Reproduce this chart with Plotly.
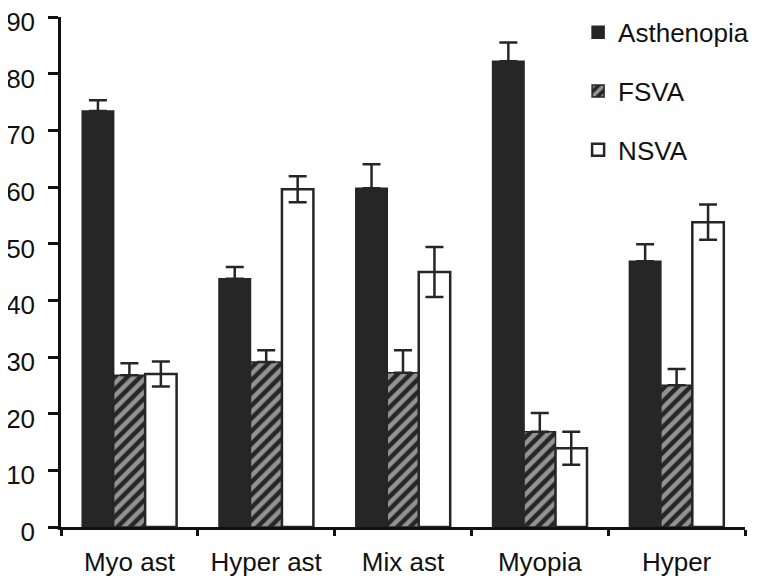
import plotly.graph_objects as go

categories = ["Myo ast", "Hyper ast", "Mix ast", "Myopia", "Hyper"]
asthenopia = [73.4, 43.8, 59.8, 82.2, 46.9]
asthenopia_err = [1.9, 2.1, 4.2, 3.3, 3.0]
fsva = [26.8, 29.1, 27.2, 16.8, 25.0]
fsva_err = [2.1, 2.1, 4.0, 3.3, 2.9]
nsva = [27.0, 59.6, 45.0, 13.9, 53.8]
nsva_err = [2.2, 2.3, 4.4, 2.9, 3.1]
zeros = [0, 0, 0, 0, 0]
y_ticks = [0, 10, 20, 30, 40, 50, 60, 70, 80, 90]

DARK = "#262626"
FONT = "Liberation Sans, Arial, sans-serif"

def err(arr, minus):
    return dict(type="data", array=arr, arrayminus=minus, symmetric=False,
                color=DARK, thickness=2.5, width=9)

fig = go.Figure()
fig.add_trace(go.Bar(
    name="Asthenopia", x=categories, y=asthenopia, legendgroup="a",
    marker=dict(color=DARK, line=dict(color=DARK, width=1.5)),
    error_y=err(asthenopia_err, zeros)))
fig.add_trace(go.Bar(
    name="FSVA", x=categories, y=fsva, legendgroup="f",
    marker=dict(color=DARK, line=dict(color=DARK, width=1.5),
                pattern=dict(shape="/", fgcolor="white", bgcolor=DARK,
                             size=9, solidity=0.5)),
    error_y=err(fsva_err, zeros)))
fig.add_trace(go.Bar(
    name="NSVA", x=categories, y=nsva, legendgroup="n",
    marker=dict(color="white", line=dict(color=DARK, width=2.5)),
    error_y=err(nsva_err, nsva_err)))

# page body has an 8px margin, so the figure is sized to fill the rest
fig.update_layout(
    width=749, height=577,
    margin=dict(l=53, r=12, t=9, b=58, autoexpand=False),
    paper_bgcolor="white", plot_bgcolor="white",
    barmode="group", bargap=0.31, bargroupgap=0,
    font=dict(family=FONT, size=26, color="#111"),
    showlegend=True,
    legend=dict(x=0.756, y=1.016, xanchor="left", yanchor="top",
                font=dict(size=26), tracegroupgap=22,
                bgcolor="rgba(0,0,0,0)", itemwidth=30),
)
fig.update_xaxes(
    automargin=False, ticklabeloverflow="allow",
    showline=True, linecolor="#111", linewidth=2.5,
    ticks="outside", tickson="boundaries", ticklen=6, tickwidth=2.5,
    tickcolor="#111", showgrid=False, zeroline=False,
    ticklabelstandoff=10)
fig.update_yaxes(
    automargin=False, ticklabeloverflow="allow",
    range=[0, 90], tickvals=y_ticks, showline=True, linecolor="#111",
    linewidth=2.5, ticks="outside", ticklen=10, tickwidth=2.5,
    tickcolor="#111", showgrid=False, zeroline=False,
    ticklabelstandoff=8, ticklabelshift=5)

fig.write_html("out.html")
